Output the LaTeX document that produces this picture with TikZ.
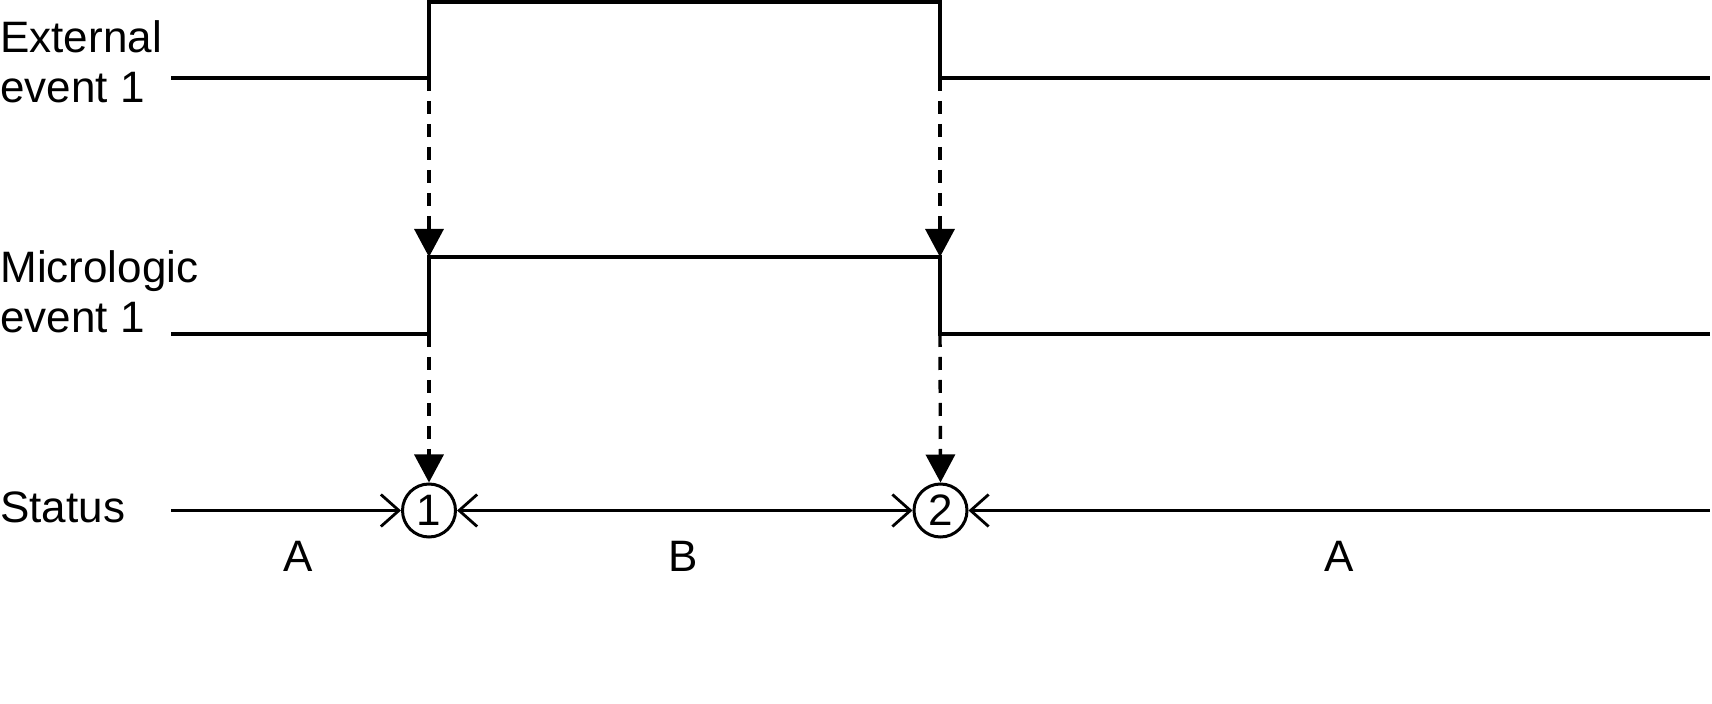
\documentclass[tikz,border=0pt]{standalone}
\usepackage{fontspec}
\setmainfont{Liberation Sans}
\usetikzlibrary{arrows.meta}
\tikzset{openarr/.tip={Straight Barb[length=9pt,width=16pt,line width=1.4pt]}}
\begin{document}
\begin{tikzpicture}[x=0.5pt,y=-0.5pt,
  sig/.style={line width=1.7pt},
  lbl/.style={inner sep=0pt,anchor=base west,align=left,font=\fontsize{22pt}{25pt}\selectfont},
  ab/.style={inner sep=0pt,anchor=base,font=\fontsize{22pt}{25pt}\selectfont},
  evt/.style={circle,draw,line width=1.5pt,minimum size=26.5pt,inner sep=0pt,font=\fontsize{22pt}{26pt}\selectfont},
  trig/.style={line width=1.7pt,dash pattern=on 6.5pt off 5pt,-{Triangle[length=14pt,width=14.5pt]}},
  stat/.style={line width=1.7pt}]
\useasboundingbox (0,0) rectangle (1712,704);
% labels
\node[lbl] (lext) at (0,103) {External\\event 1};
\node[lbl] (lmic) at (0,333) {Micrologic\\event 1};
\node[lbl] (lst) at (0,523) {Status};
% external signal
\coordinate (e0) at (171,78);
\coordinate (e1) at (429,78);
\coordinate (e2) at (429,2);
\coordinate (e3) at (940,2);
\coordinate (e4) at (940,78);
\coordinate (e5) at (1710,78);
\draw[sig] (e0) -- (e1) -- (e2) -- (e3) -- (e4) -- (e5);
% micrologic signal
\coordinate (m0) at (171,334);
\coordinate (m1) at (429,334);
\coordinate (m2) at (429,257);
\coordinate (m3) at (940,257);
\coordinate (m4) at (940,334);
\coordinate (m5) at (1710,334);
\draw[sig] (m0) -- (m1) -- (m2) -- (m3) -- (m4) -- (m5);
% status events
\node[evt] (c1) at (429,510.5) {1};
\node[evt] (c2) at (940.5,510.5) {2};
\coordinate (s0) at (171,510.5);
\coordinate (s5) at (1710,510.5);
\draw[stat,-{openarr}] (s0) -- (c1.west);
\draw[stat,{openarr}-{openarr}] (c1.east) -- (c2.west);
\draw[stat,{openarr}-] (c2.east) -- (s5);
% trigger arrows
\draw[trig] (e1) -- (m2);
\draw[trig] (e4) -- (m3);
\draw[trig] (m1) -- (c1.north);
\draw[trig] (m4) -- (c2.north);
% state labels
\node[ab] (a1) at (298,572) {A};
\node[ab] (b1) at (683,572) {B};
\node[ab] (a2) at (1339,572) {A};
\end{tikzpicture}
\end{document}
